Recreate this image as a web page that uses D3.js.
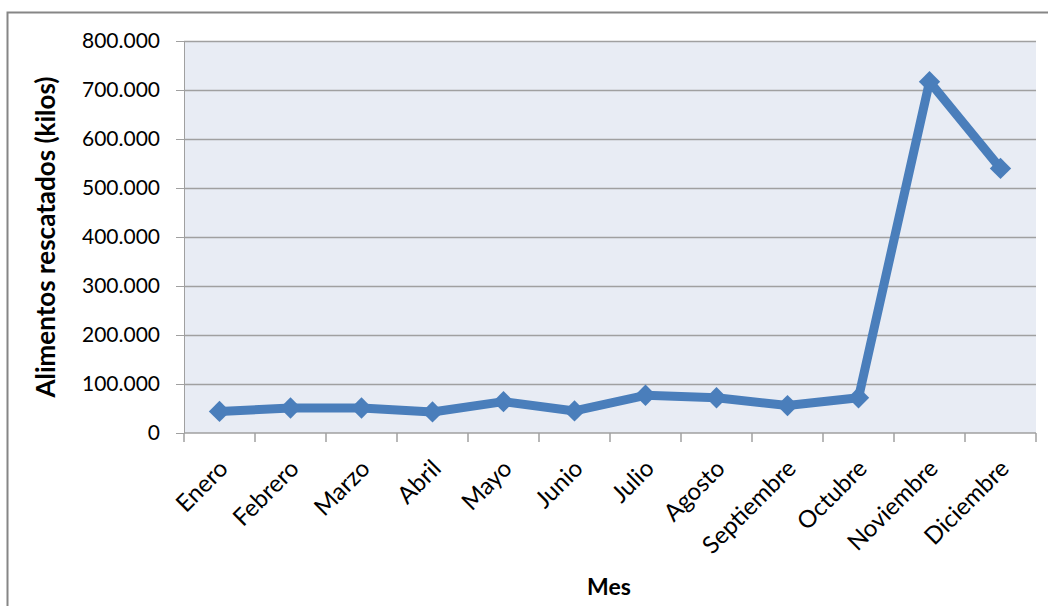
<!DOCTYPE html>
<html>
<head>
<meta charset="utf-8">
<script src="https://cdn.jsdelivr.net/npm/d3@7"></script>
<style>
  body { margin: 0; background: #fff; }
  text { font-family: Lato, "Open Sans", sans-serif; fill: #000; }
</style>
</head>
<body>
<div id="chart"></div>
<script>
"use strict";

var months = ["Enero", "Febrero", "Marzo", "Abril", "Mayo", "Junio", "Julio",
              "Agosto", "Septiembre", "Octubre", "Noviembre", "Diciembre"];
var kilos = [44000, 51000, 51000, 43000, 64000, 45000, 77000, 72000, 56000, 72000, 717000, 540000];
var yTicks = [0, 100000, 200000, 300000, 400000, 500000, 600000, 700000, 800000];

var width = 1048,
    height = 606,
    plotLeft = 184, plotRight = 1036,
    plotTop = 41, plotBottom = 433;

var svg = d3.select("#chart").append("svg")
  .attr("width", width)
  .attr("height", height);

// outer chart border
svg.append("rect")
  .attr("x", 7.5).attr("y", 12.5)
  .attr("width", 1060).attr("height", 620)
  .attr("fill", "#fff")
  .attr("stroke", "#868686")
  .attr("stroke-width", 2);

var x = d3.scaleBand().domain(months).range([plotLeft, plotRight]);
var y = d3.scaleLinear().domain([0, 800000]).range([plotBottom, plotTop]);

svg.append("rect")
  .attr("x", plotLeft).attr("y", plotTop)
  .attr("width", plotRight - plotLeft).attr("height", plotBottom - plotTop)
  .attr("fill", "#e8ecf4");

var fmt = function(d) { return d3.format(",")(d).replace(/,/g, "."); };

// y axis with gridlines
var yAxis = svg.append("g")
  .attr("transform", "translate(" + plotLeft + ",0)")
  .call(d3.axisLeft(y).tickValues(yTicks).tickFormat(fmt).tickSize(8).tickPadding(16));
yAxis.select(".domain").attr("stroke", "#a0a0a0");
yAxis.selectAll(".tick line").attr("stroke", "#a0a0a0");
yAxis.selectAll(".tick text").style("font-size", "21px").attr("fill", "#000");

svg.append("g").selectAll("line").data(yTicks.slice(1)).enter().append("line")
  .attr("x1", plotLeft).attr("x2", plotRight)
  .attr("y1", function(d) { return y(d) + 0.5; })
  .attr("y2", function(d) { return y(d) + 0.5; })
  .attr("stroke", "#a0a0a0")
  .attr("stroke-width", 1.5);

// x axis, ticks on band edges
var xAxis = svg.append("g")
  .attr("transform", "translate(0," + plotBottom + ")");
xAxis.append("line")
  .attr("x1", plotLeft).attr("x2", plotRight)
  .attr("stroke", "#a0a0a0").attr("stroke-width", 1.5);
xAxis.selectAll("line.tk").data(months.concat(["end"])).enter().append("line")
  .attr("class", "tk")
  .attr("x1", function(d, i) { return plotLeft + i * x.bandwidth(); })
  .attr("x2", function(d, i) { return plotLeft + i * x.bandwidth(); })
  .attr("y1", 0).attr("y2", 9)
  .attr("stroke", "#a0a0a0").attr("stroke-width", 1.5);

xAxis.selectAll("text").data(months).enter().append("text")
  .attr("transform", function(d) {
    return "translate(" + (x(d) + x.bandwidth() / 2 + 10) + ",37) rotate(-45)";
  })
  .attr("text-anchor", "end")
  .style("font-size", "24px")
  .text(function(d) { return d; });

// line and markers
var line = d3.line()
  .x(function(d, i) { return x(months[i]) + x.bandwidth() / 2; })
  .y(function(d) { return y(d); });

svg.append("path")
  .datum(kilos)
  .attr("d", line)
  .attr("fill", "none")
  .attr("stroke", "#4a7ebb")
  .attr("stroke-width", 9)
  .attr("stroke-linejoin", "round");

svg.append("g").selectAll("path").data(kilos).enter().append("path")
  .attr("d", d3.symbol().type(d3.symbolDiamond2).size(290))
  .attr("transform", function(d, i) {
    return "translate(" + (x(months[i]) + x.bandwidth() / 2) + "," + y(d) + ")";
  })
  .attr("fill", "#4a7ebb");

// axis titles
svg.append("text")
  .attr("transform", "translate(55," + ((plotTop + plotBottom) / 2) + ") rotate(-90)")
  .attr("text-anchor", "middle")
  .style("font-size", "26px")
  .style("font-weight", "bold")
  .text("Alimentos rescatados (kilos)");

svg.append("text")
  .attr("x", 609).attr("y", 595)
  .attr("text-anchor", "middle")
  .style("font-size", "23px")
  .style("font-weight", "bold")
  .text("Mes");
</script>
</body>
</html>
